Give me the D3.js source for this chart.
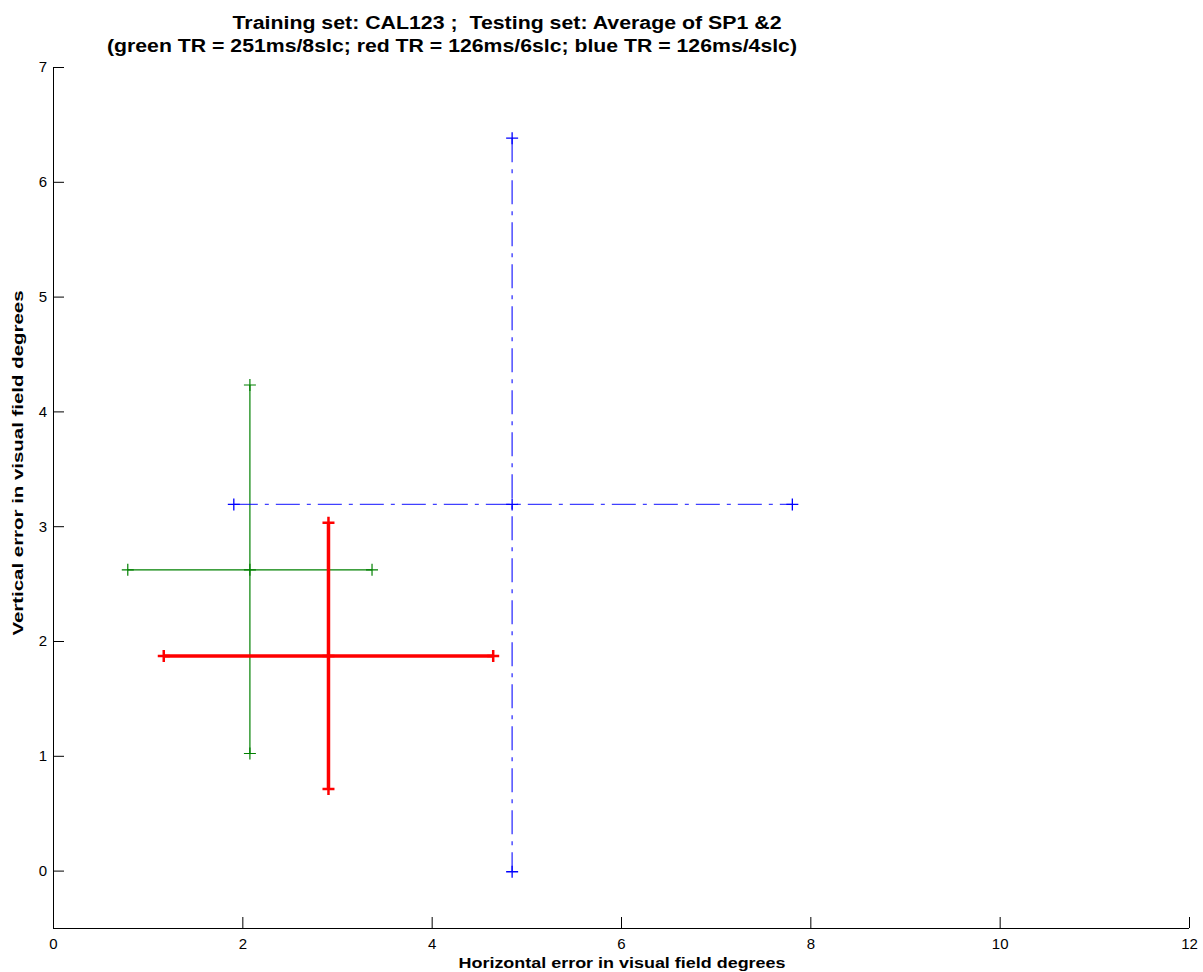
<!DOCTYPE html>
<html>
<head>
<meta charset="utf-8">
<script src="https://cdn.jsdelivr.net/npm/d3@7"></script>
<style>
  html, body { margin: 0; padding: 0; background: #fff; }
  svg { display: block; }
  text { font-family: "Liberation Sans", Arial, sans-serif; }
</style>
</head>
<body>
<script>
// ---- data ----
const seriesNames = ["green", "red", "blue"];
const seriesColors = ["#008000", "#ff0000", "#0000ff"];
const centerX = [2.08, 2.91, 4.85];
const centerY = [2.62, 1.87, 3.19];
const xLow  = [0.79, 1.17, 1.91];
const xHigh = [3.37, 4.65, 7.81];
const yLow  = [1.02, 0.71, -0.01];
const yHigh = [4.23, 3.03, 6.38];
const xTicks = [0, 2, 4, 6, 8, 10, 12];
const yTicks = [0, 1, 2, 3, 4, 5, 6, 7];
const titleLines = [
  "Training set: CAL123 ;  Testing set: Average of SP1 &2",
  "(green TR = 251ms/8slc; red TR = 126ms/6slc; blue TR = 126ms/4slc)"
];
const xLabel = "Horizontal error in visual field degrees";
const yLabel = "Vertical error in visual field degrees";

(function () {
// ---- layout ----
const W = 1203, H = 972;
const mLeft = 53, mRight = 1189, mTop = 67, mBottom = 928;

const svg = d3.select("body").append("svg").attr("width", W).attr("height", H);

const x = d3.scaleLinear().domain([0, 12]).range([mLeft, mRight]);
const yScale = d3.scaleLinear().domain([-0.5, 7]).range([mBottom, mTop]);

// axes
const xAxis = d3.axisBottom(x).tickValues(xTicks).tickSize(-11).tickPadding(10).tickFormat(d3.format("d"));
const yAxis = d3.axisLeft(yScale).tickValues(yTicks).tickSize(-11).tickPadding(6).tickFormat(d3.format("d"));

const gx = svg.append("g").attr("transform", `translate(0,${mBottom})`).call(xAxis);
const gy = svg.append("g").attr("transform", `translate(${mLeft},0)`).call(yAxis);
[gx, gy].forEach(g => {
  g.select(".domain").attr("stroke", "#000").attr("stroke-width", 1);
  g.selectAll(".tick line").attr("stroke", "#000");
  g.selectAll(".tick text").attr("fill", "#000").style("font-size", "15px")
    .style("font-family", "'Liberation Sans', Arial, sans-serif");
});
gx.select(".domain").attr("d", `M${mLeft},0.5H${mRight}`);
gy.select(".domain").attr("d", `M0.5,${mBottom}V${mTop}`);

// error bar crosses
const plot = svg.append("g");
const styles = [
  { width: 1.2, dash: null, mk: 6, mkw: 1.2, op: 1 },
  { width: 3.5, dash: null, mk: 6, mkw: 2.5, op: 1 },
  { width: 1.4, dash: "24,7,4,7", mk: 6, mkw: 1.3, op: 0.75 }
];
[0, 1, 2].forEach(i => {
  const c = seriesColors[i], s = styles[i];
  const g = plot.append("g");
  const line = (x1, y1, x2, y2) => g.append("line")
    .attr("x1", x(x1)).attr("y1", yScale(y1)).attr("x2", x(x2)).attr("y2", yScale(y2))
    .attr("stroke", c).attr("stroke-width", s.width)
    .attr("stroke-opacity", s.op)
    .attr("stroke-dasharray", s.dash);
  line(centerX[i], yHigh[i], centerX[i], yLow[i]);
  line(xLow[i], centerY[i], xHigh[i], centerY[i]);
  const pts = [
    [centerX[i], yHigh[i]], [centerX[i], yLow[i]],
    [xLow[i], centerY[i]], [xHigh[i], centerY[i]],
    [centerX[i], centerY[i]]
  ];
  g.selectAll("path.mk").data(pts).enter().append("path")
    .attr("class", "mk")
    .attr("d", d => {
      const px = x(d[0]), py = yScale(d[1]), m = s.mk;
      return `M${px - m},${py}H${px + m}M${px},${py - m}V${py + m}`;
    })
    .attr("stroke", c).attr("stroke-width", s.mkw).attr("fill", "none");
});

// titles
const titleWidths = [549, 690];
const titleCenters = [507, 452];
svg.append("g").selectAll("text").data(titleLines).enter().append("text")
  .attr("x", (d, i) => titleCenters[i]).attr("y", (d, i) => 29 + i * 23)
  .attr("text-anchor", "middle")
  .attr("textLength", (d, i) => titleWidths[i])
  .attr("lengthAdjust", "spacingAndGlyphs")
  .style("white-space", "pre")
  .style("font-size", "18px").style("font-weight", "bold")
  .attr("fill", "#000")
  .text(d => d);

svg.append("text").attr("x", 622).attr("y", 968)
  .attr("text-anchor", "middle").style("font-size", "15px").style("font-weight", "bold")
  .attr("textLength", 327).attr("lengthAdjust", "spacingAndGlyphs")
  .text(xLabel);

svg.append("text").attr("transform", `translate(23,463) rotate(-90)`)
  .attr("text-anchor", "middle").style("font-size", "15px").style("font-weight", "bold")
  .attr("textLength", 345).attr("lengthAdjust", "spacingAndGlyphs")
  .text(yLabel);
})();
</script>
</body>
</html>
